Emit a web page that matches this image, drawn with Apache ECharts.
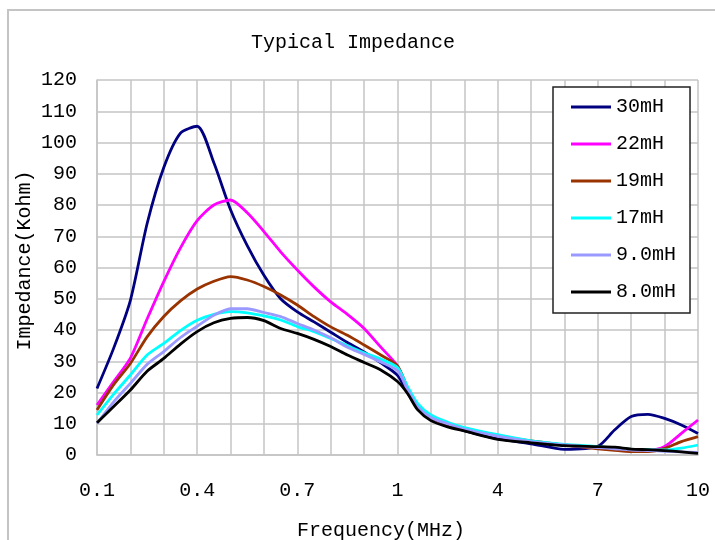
<!DOCTYPE html>
<html>
<head>
<meta charset="utf-8">
<script src="https://cdn.jsdelivr.net/npm/echarts@6/dist/echarts.min.js"></script>
<style>
  html, body { margin: 0; padding: 0; background: #fff; }
  #chart { width: 715px; height: 540px; }
</style>
</head>
<body>
<div id="chart"></div>
<script>
// frequency points (MHz)
var freq = [0.1, 0.15, 0.2, 0.25, 0.3, 0.35, 0.4, 0.45, 0.5, 0.55, 0.6, 0.65, 0.7, 0.75, 0.8, 0.85, 0.9, 0.95, 1.0,
            1.3, 1.6, 2, 2.5, 3, 4, 5, 6, 7, 7.5, 8, 8.5, 9, 9.5, 10];

// impedance (Kohm)
var z30 = [21.3, 34.2, 49.5, 74, 92, 103, 105.2, 93.5, 78.5, 67, 57.5, 50, 45.8, 42.6, 39.3, 36, 33, 29.5, 25.5,
           20, 15, 12.5, 9.5, 7.8, 5.2, 3.6, 1.8, 2.8, 8, 12.3, 13, 11.7, 9.6, 6.9];
var z22 = [16, 23.5, 31, 43.5, 55.5, 66.3, 75, 80, 81.6, 77.5, 71.5, 65, 59.2, 53.8, 49, 45, 40.5, 34.5, 28.5,
           21, 15.5, 12, 9.8, 8.5, 6, 4.3, 3.2, 2.2, 1.7, 1.3, 1.4, 2.7, 6.9, 11.2];
var z19 = [14.4, 22.5, 29.3, 37.8, 44.3, 49.3, 53.1, 55.6, 57.1, 56, 53.9, 51.2, 48, 44.3, 41, 38.3, 35.2, 32, 28.5,
           21.5, 15.5, 12, 9.8, 8.5, 6.3, 4.5, 3.2, 2, 1.5, 1.1, 1.1, 2.1, 4.3, 5.9];
var z17 = [12.8, 19.5, 25.6, 32, 35.7, 39.8, 43.1, 45, 45.9, 45.5, 44.5, 43.2, 41.1, 39.5, 37.3, 35, 32.7, 30.7, 28,
           21.9, 16.5, 12.8, 10.5, 8.8, 6.5, 4.5, 3.4, 2.7, 2.2, 1.8, 1.7, 1.6, 2.2, 3.2];
var z9 = [10.1, 17, 22.9, 29, 33.1, 37.6, 41.2, 44.7, 46.8, 46.8, 45.6, 44.3, 42.1, 40, 37.5, 34.5, 32.2, 29.8, 27,
          21, 15.5, 12, 10, 8.3, 6, 4.3, 3.2, 2.4, 2, 1.6, 1.4, 1.2, 1.0, 0.8];
var z8 = [10.3, 15.5, 20.8, 26.8, 30.9, 35.5, 39.5, 42.3, 43.7, 44, 43, 40.5, 38.9, 37, 34.7, 32, 29.6, 27.2, 23.5,
          19.7, 14.5, 11, 9, 7.7, 5, 3.9, 3, 2.7, 2.5, 1.9, 1.7, 1.4, 1, 0.5];

var seriesNames = ['30mH', '22mH', '19mH', '17mH', '9.0mH', '8.0mH'];
var seriesValues = [z30, z22, z19, z17, z9, z8];
var seriesColors = ['#000080', '#ff00ff', '#993300', '#00ffff', '#9999ff', '#000000'];

var xTickLabels = ['0.1', '0.4', '0.7', '1', '4', '7', '10'];

// axis is drawn in equal steps: 0.1..1 by 0.1, then 1..10 by 1
function freqPos(f) {
    return f <= 1 ? (f - 0.1) / 0.1 : 9 + (f - 1);
}

var font = '"Liberation Mono", monospace';
var chart = echarts.init(document.getElementById('chart'));

var series = [];
for (var i = 0; i < seriesNames.length; i++) {
    var pts = [];
    for (var j = 0; j < freq.length; j++) {
        pts.push([freqPos(freq[j]), seriesValues[i][j]]);
    }
    series.push({
        name: seriesNames[i],
        type: 'line',
        data: pts,
        showSymbol: false,
        symbol: 'none',
        smooth: 0.25,
        lineStyle: { color: seriesColors[i], width: 2.8 },
        itemStyle: { color: seriesColors[i] }
    });
}

var option = {
    animation: false,
    backgroundColor: '#fff',
    title: {
        text: 'Typical Impedance',
        left: 246,
        top: 28,
        textStyle: { fontFamily: font, fontSize: 20, fontWeight: 'normal', color: '#000' }
    },
    graphic: [{
        type: 'rect',
        shape: { x: 8, y: 10, width: 720, height: 545 },
        style: { fill: 'none', stroke: '#c4c4c4', lineWidth: 2 },
        silent: true
    }],
    legend: {
        orient: 'vertical',
        left: 553,
        top: 87,
        padding: [10, 14, 11, 18],
        itemWidth: 40,
        itemHeight: 20,
        itemGap: 17,
        // flat bar for the legend key, boxed to 40x20 by the two moveTo corners
        icon: 'path://M0,0M40,20M0,8.5L40,8.5L40,11.5L0,11.5Z',
        borderColor: '#222',
        borderWidth: 1.5,
        backgroundColor: '#fff',
        textStyle: { fontFamily: font, fontSize: 20, color: '#000' },
        data: seriesNames
    },
    grid: { left: 97, right: 17, top: 80, bottom: 85, outerBoundsMode: 'none', containLabel: false },
    xAxis: {
        type: 'value',
        min: 0,
        max: 18,
        interval: 1,
        name: 'Frequency(MHz)',
        nameLocation: 'middle',
        nameGap: 66,
        nameMoveOverlap: false,
        nameTextStyle: { fontFamily: font, fontSize: 20, color: '#000', padding: [0, 33, 0, 0] },
        axisLine: { lineStyle: { color: '#c4c4c4', width: 1.5 } },
        axisTick: { show: false },
        axisLabel: {
            fontFamily: font, fontSize: 20, color: '#000', margin: 26,
            showMinLabel: true, showMaxLabel: true,
            formatter: function (v) { return v % 3 === 0 ? xTickLabels[v / 3] : ''; }
        },
        splitLine: { show: true, lineStyle: { color: '#c4c4c4', width: 1.5 } }
    },
    yAxis: {
        type: 'value',
        min: 0,
        max: 120,
        interval: 10,
        name: 'Impedance(Kohm)',
        nameLocation: 'middle',
        nameGap: 62,
        nameMoveOverlap: false,
        nameTextStyle: { fontFamily: font, fontSize: 20, color: '#000', padding: [0, 0, 0, 14] },
        axisLine: { show: true, lineStyle: { color: '#c4c4c4', width: 1.5 } },
        axisTick: { show: false },
        axisLabel: { fontFamily: font, fontSize: 20, color: '#000', margin: 20 },
        splitLine: { show: true, lineStyle: { color: '#c4c4c4', width: 1.5 } }
    },
    series: series
};
chart.setOption(option);
</script>
</body>
</html>
